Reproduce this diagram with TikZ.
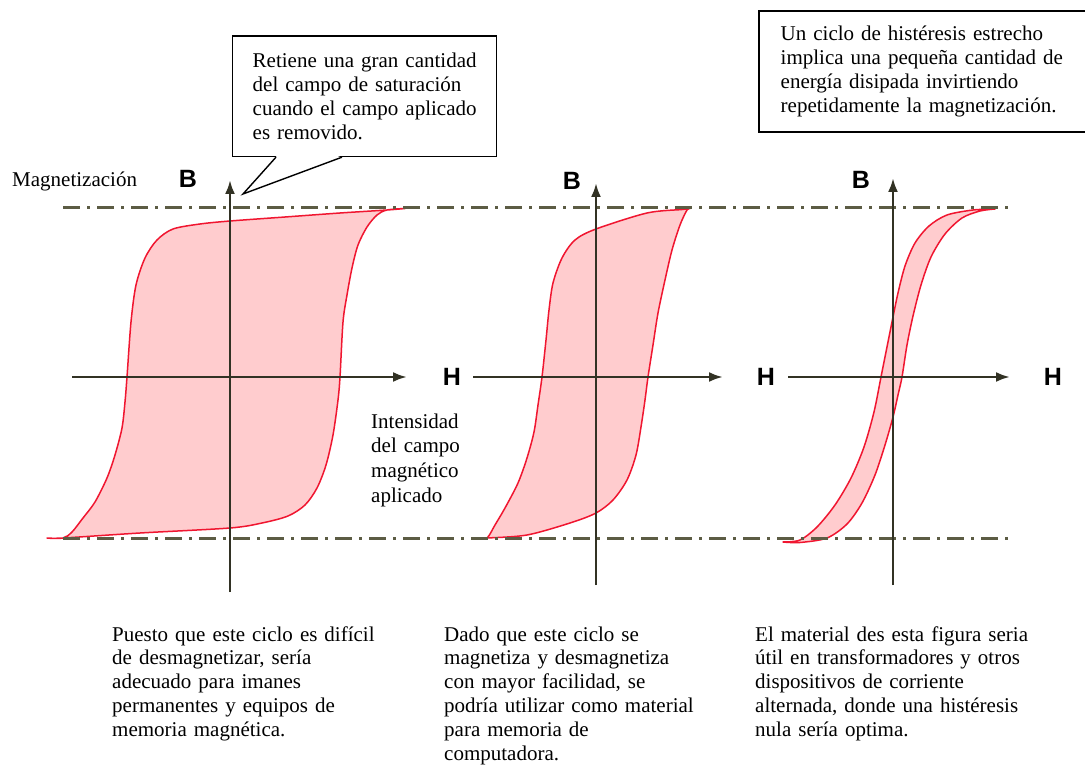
\documentclass[tikz,border=0pt]{standalone}
\usepackage{fontspec}
\setmainfont{Liberation Serif}
\setsansfont{Liberation Sans}
\usetikzlibrary{arrows.meta}

\definecolor{rojo}{RGB}{240,22,48}
\definecolor{rosa}{RGB}{255,204,206}
\definecolor{grisEje}{RGB}{50,50,36}
\definecolor{grisGuion}{RGB}{92,92,68}

\begin{document}
\begin{tikzpicture}[x=1pt,y=-1pt,
		texto/.style={font=\fontsize{21}{23.8}\selectfont, inner sep=0pt, align=left, anchor=base west},
		nota/.style={texto, draw, line width=1.4pt, anchor=north west},
		letra/.style={font=\sffamily\bfseries\fontsize{25}{25}\selectfont, inner sep=0pt},
		bucle/.style={draw=rojo, fill=rosa, line width=1.5pt, line join=round},
		guion/.style={draw=grisGuion, line width=3pt, dash pattern=on 17pt off 7pt on 3pt off 7pt},
		eje/.style={draw=grisEje, line width=2.6pt, -{Latex[length=14pt,width=10pt]}}]
		\fill[white] (0,0) rectangle (1085,770);
		\useasboundingbox (0,0) rectangle (1085,770);

		\filldraw[bucle] plot[smooth] coordinates {(405,208.5) (387,210) (340,213) (285,217) (230,221) (200,224) (173,229) (157,240) (145,258) (136,285) (131,322) (127,377) (125,402) (122,428) (115,455) (107,478) (95,502) (83,518) (72,532) (63,538) (47,538)}
			-- plot[smooth] coordinates {(47,538) (63,538) (140,533) (230,528) (262,523) (288,516) (305,505) (317,488) (326,465) (333,435) (338,400) (340,377) (343,322) (347,295) (352,268) (358,245) (367,227) (377,215) (387,210) (405,208.5)} -- cycle;
		\filldraw[bucle] plot[smooth] coordinates {(690,208.5) (682,209.5) (647,213) (596,229) (575,240) (562,258) (553,283) (549,310) (546,340) (542,377) (538,405) (534,432) (527,458) (518,483) (505,508) (495,525) (487,538) (478,538)}
			-- plot[smooth] coordinates {(478,538) (487,538) (527,535) (570,523) (596,513) (613,500) (627,480) (636,455) (641,427) (645,400) (648,377) (653,345) (658,313) (665,280) (672,250) (680,225) (687,210) (690,208.5)} -- cycle;
		\filldraw[bucle] plot[smooth] coordinates {(995,209) (973,210) (947,215) (929,226) (915,243) (905,266) (898,293) (893,317) (887,347) (881,377) (874,412) (864,447) (851,478) (835,505) (817,527) (800,540) (783,542)}
			-- plot[smooth] coordinates {(783,542) (800,542.5) (827,538) (847,524) (862,503) (875,475) (885,445) (893,417) (898,395) (902,377) (907,345) (913,316) (921,285) (931,257) (945,234) (962,218) (980,211) (995,209)} -- cycle;

		\draw[guion] (63,208) -- (1013,208);
		\draw[guion] (63,538) -- (1013,538);

		\foreach \x/\yb/\yt/\a/\b in {230/592/180/72/407, 596/585/183/473/723, 893/585/178/788/1010} {
			\draw[eje] (\x,\yb) -- (\x,\yt);
			\draw[eje] (\a,377) -- (\b,377);
		}
		\foreach \n/\x/\y in {1/188/179, 2/572/181, 3/861/180}
			\node[letra] (B\n) at (\x,\y) {B};
		\foreach \n/\x in {1/452, 2/766, 3/1053}
			\node[letra] (H\n) at (\x,377) {H};

		\node[texto] (magnet) at (12,187) {Magnetización};
		\node[texto, font=\fontsize{21}{24.8}\selectfont, text width=110pt] (intens) at (371,428) {Intensidad\\del campo\\magnético\\aplicado};

		\node[nota, text width=224pt, inner xsep=20pt, inner ysep=17pt] (nota1) at (232,35.5) {Retiene una gran cantidad\\del campo de saturación\\cuando el campo aplicado\\es removido.};
		\coordinate (punta) at (243,194);
		\fill[white] ([xshift=45pt,yshift=1.5pt]nota1.south west) -- (punta) -- ([xshift=109pt,yshift=1.5pt]nota1.south west) -- cycle;
		\draw[line width=1.4pt] ([xshift=44pt]nota1.south west) -- (punta) -- ([xshift=110pt]nota1.south west);

		\node[nota, draw=none, text width=285pt, inner xsep=21pt, inner ysep=14.5pt] (nota2) at (759,11) {Un ciclo de histéresis estrecho\\implica una pequeña cantidad de\\energía disipada invirtiendo\\repetidamente la magnetización.};
		\draw[line width=1.4pt] (nota2.north east) -- (nota2.north west) -- (nota2.south west) -- (nota2.south east);

		\node[texto, text width=300pt] (texto1) at (112,641) {Puesto que este ciclo es difícil\\de desmagnetizar, sería\\adecuado para imanes\\permanentes y equipos de\\memoria magnética.};
		\node[texto, text width=300pt] (texto2) at (444,641) {Dado que este ciclo se\\magnetiza y desmagnetiza\\con mayor facilidad, se\\podría utilizar como material\\para memoria de\\computadora.};
		\node[texto, text width=300pt] (texto3) at (755,641) {El material des esta figura seria\\útil en transformadores y otros\\dispositivos de corriente\\alternada, donde una histéresis\\nula sería optima.};
	\end{tikzpicture}
\end{document}
